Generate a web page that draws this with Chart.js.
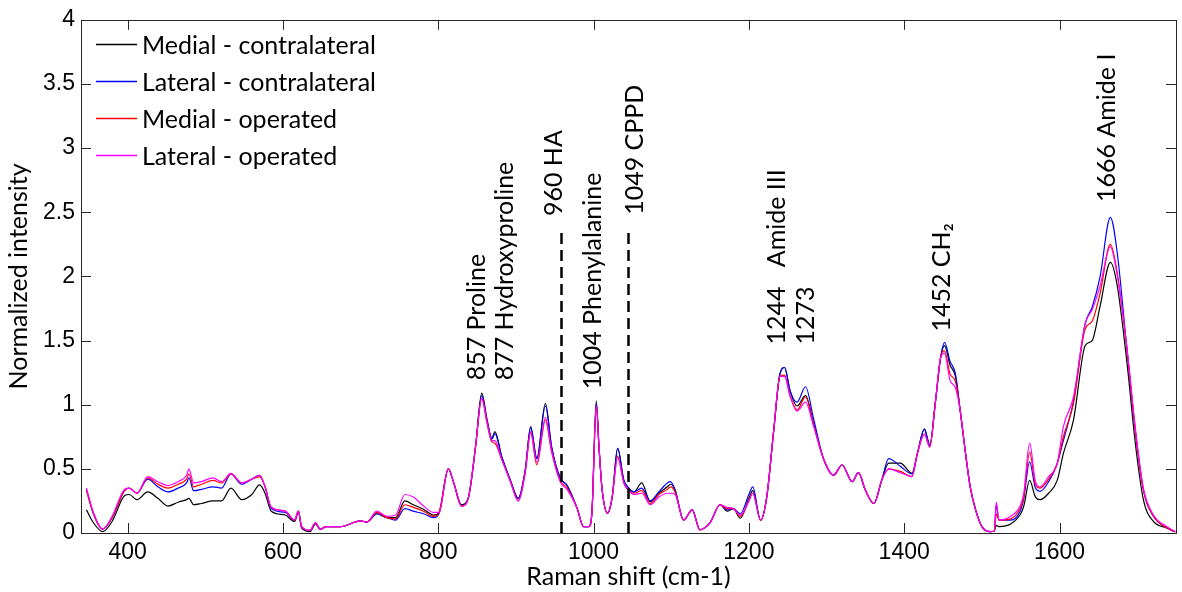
<!DOCTYPE html>
<html>
<head>
<meta charset="utf-8">
<script src="https://cdn.jsdelivr.net/npm/chart.js@4/dist/chart.umd.min.js"></script>
<style>
  html, body { margin: 0; padding: 0; background: #fff; }
</style>
</head>
<body>
<canvas id="ramanChart" width="1182" height="592"></canvas>
<script>
// Raman shift (cm-1), shared by all four spectra
const shift = [347,356,368,380,396,402,412,426,439,452,
  465,476,479,485,495,510,521,533,547,560,
  570,577,585,603,615,620,624,635,642,648,
  656,674,700,708,721,734,745,757,768,781,
  794,801,813,820,830,839,848,856,863,869,
  873,882,893,903,912,919,927,938,946,957,
  966,979,987,994,998,1003.5,1007,1011,1018,1024,
  1031,1039,1044,1052,1062,1073,1084,1095,1099,1105,
  1116,1127,1137,1150,1163,1172,1180,1189,1200,1205,
  1215,1223,1232,1240,1246,1253,1262,1273,1283,1296,
  1309,1320,1333,1341,1350,1361,1371,1380,1395,1410,
  1417,1426,1433,1440,1447,1452,1459,1466,1472,1479,
  1485,1492,1500,1511,1516,1518.6,1522,1537,1550,1554,
  1561.5,1569,1575,1586,1597,1605,1618,1633,1642,1652,
  1665.5,1674,1687,1698,1708,1721,1738,1749];

const medialContra = [0.18,0.08,0.01,0.09,0.29,0.30,0.26,0.32,0.27,0.21,
  0.24,0.26,0.27,0.22,0.23,0.25,0.25,0.35,0.26,0.30,
  0.375,0.31,0.17,0.14,0.09,0.16,0.04,0.01,0.07,0.03,
  0.05,0.05,0.095,0.085,0.15,0.12,0.12,0.25,0.22,0.185,
  0.14,0.16,0.50,0.39,0.22,0.28,0.67,1.09,0.88,0.74,
  0.79,0.59,0.41,0.27,0.49,0.83,0.58,1.01,0.67,0.43,
  0.37,0.19,0.05,0.05,0.17,1.03,0.67,0.34,0.155,0.28,
  0.66,0.41,0.36,0.32,0.39,0.245,0.31,0.36,0.38,0.335,
  0.10,0.18,0.025,0.08,0.22,0.17,0.19,0.115,0.27,0.33,
  0.10,0.28,0.80,1.24,1.29,1.11,0.99,1.07,0.86,0.58,
  0.45,0.53,0.40,0.47,0.335,0.23,0.41,0.545,0.545,0.465,
  0.62,0.81,0.685,1.01,1.37,1.46,1.31,1.22,0.96,0.62,
  0.36,0.18,0.05,0.01,0.015,0.06,0.05,0.07,0.15,0.21,
  0.41,0.28,0.26,0.31,0.41,0.62,0.88,1.46,1.50,1.76,
  2.11,1.94,1.32,0.68,0.26,0.09,0.04,0.01];

const lateralContra = [0.34,0.15,0.03,0.12,0.33,0.35,0.31,0.42,0.36,0.32,
  0.35,0.39,0.43,0.33,0.34,0.36,0.35,0.46,0.38,0.42,
  0.45,0.36,0.19,0.16,0.10,0.17,0.05,0.02,0.08,0.03,
  0.05,0.05,0.095,0.085,0.15,0.12,0.10,0.19,0.17,0.15,
  0.12,0.15,0.50,0.39,0.21,0.28,0.67,1.07,0.87,0.73,
  0.775,0.59,0.41,0.27,0.49,0.82,0.58,0.99,0.67,0.43,
  0.37,0.19,0.05,0.05,0.17,1.01,0.67,0.34,0.155,0.28,
  0.66,0.41,0.36,0.32,0.35,0.25,0.32,0.39,0.40,0.335,
  0.10,0.18,0.025,0.08,0.22,0.18,0.19,0.15,0.30,0.36,
  0.10,0.28,0.80,1.24,1.29,1.11,1.02,1.14,0.90,0.58,
  0.45,0.53,0.40,0.47,0.335,0.23,0.41,0.58,0.52,0.46,
  0.62,0.81,0.685,1.01,1.37,1.485,1.34,1.24,0.96,0.62,
  0.36,0.18,0.05,0.01,0.015,0.22,0.10,0.10,0.18,0.27,
  0.555,0.35,0.325,0.40,0.54,0.72,1.03,1.63,1.76,1.99,
  2.46,2.20,1.42,0.775,0.335,0.13,0.04,0.01];

const medialOper = [0.33,0.15,0.03,0.12,0.33,0.35,0.31,0.43,0.38,0.35,
  0.38,0.42,0.46,0.36,0.38,0.41,0.39,0.46,0.39,0.42,
  0.44,0.36,0.20,0.17,0.10,0.17,0.05,0.02,0.08,0.03,
  0.05,0.05,0.095,0.085,0.16,0.12,0.11,0.22,0.20,0.17,
  0.13,0.16,0.50,0.39,0.21,0.28,0.67,1.05,0.85,0.71,
  0.70,0.57,0.40,0.25,0.47,0.78,0.53,0.88,0.63,0.41,
  0.35,0.19,0.05,0.05,0.17,0.99,0.67,0.34,0.155,0.28,
  0.60,0.39,0.34,0.31,0.33,0.23,0.30,0.34,0.36,0.32,
  0.10,0.18,0.025,0.08,0.22,0.19,0.19,0.13,0.25,0.31,
  0.10,0.28,0.80,1.22,1.23,1.07,0.96,1.06,0.85,0.58,
  0.45,0.53,0.40,0.47,0.335,0.23,0.41,0.50,0.48,0.44,
  0.62,0.77,0.67,1.01,1.37,1.42,1.24,1.18,0.96,0.62,
  0.36,0.18,0.05,0.01,0.015,0.15,0.10,0.11,0.20,0.28,
  0.63,0.38,0.35,0.42,0.54,0.75,1.01,1.59,1.65,1.86,
  2.25,2.04,1.42,0.775,0.335,0.13,0.04,0.01];

const lateralOper = [0.35,0.16,0.03,0.13,0.34,0.35,0.31,0.44,0.40,0.37,
  0.40,0.45,0.50,0.39,0.40,0.43,0.40,0.465,0.39,0.42,
  0.45,0.36,0.20,0.17,0.10,0.17,0.05,0.02,0.08,0.03,
  0.05,0.05,0.095,0.085,0.17,0.13,0.14,0.30,0.28,0.21,
  0.16,0.16,0.50,0.39,0.21,0.28,0.67,1.05,0.86,0.72,
  0.72,0.57,0.40,0.25,0.47,0.79,0.55,0.90,0.64,0.40,
  0.34,0.19,0.05,0.05,0.17,0.99,0.67,0.34,0.155,0.28,
  0.59,0.39,0.34,0.30,0.31,0.22,0.28,0.31,0.31,0.30,
  0.10,0.18,0.025,0.08,0.22,0.20,0.19,0.14,0.25,0.31,
  0.10,0.28,0.80,1.22,1.22,1.07,0.95,1.02,0.84,0.58,
  0.45,0.53,0.40,0.47,0.335,0.23,0.41,0.50,0.47,0.44,
  0.62,0.77,0.67,1.01,1.37,1.40,1.19,1.13,0.96,0.62,
  0.36,0.18,0.05,0.01,0.015,0.24,0.10,0.13,0.22,0.31,
  0.70,0.40,0.36,0.44,0.54,0.83,1.06,1.63,1.74,1.92,
  2.23,2.02,1.44,0.80,0.35,0.14,0.05,0.01];

const seriesNames = ['Medial - contralateral', 'Lateral - contralateral', 'Medial - operated', 'Lateral - operated'];
const seriesColors = ['#000000', '#0000ff', '#ff0000', '#ff00ff'];

const xTicks = [400, 600, 800, 1000, 1200, 1400, 1600];
const yTicks = [0, 0.5, 1, 1.5, 2, 2.5, 3, 3.5, 4];

// band assignments (rotated labels): text, position in cm-1, bottom of text in intensity units
const bandText = ['857 Proline', '877 Hydroxyproline', '960 HA', '1004 Phenylalanine', '1049 CPPD',
  '1244   Amide III', '1273', '1452 CH\u2082', '1666 Amide I'];
const bandX = [850, 886, 949, 999.6, 1053, 1236, 1274, 1448.5, 1661.7];
const bandY = [1.19, 1.19, 2.47, 1.12, 2.48, 1.47, 1.47, 1.57, 2.58];

// dashed markers
const markerX = [957.5, 1044];
const markerTop = 2.35;

const FONT = 'Lato, "Noto Sans", sans-serif';
const TICKFONT = '"Liberation Sans", Arial, sans-serif';

const pairs = (ys) => shift.map((x, i) => ({ x: x, y: ys[i] }));
const allSeries = [medialContra, lateralContra, medialOper, lateralOper];

const datasets = allSeries.map((ys, i) => ({
  label: seriesNames[i],
  data: pairs(ys),
  borderColor: seriesColors[i],
  borderWidth: 1.2,
  pointRadius: 0,
  fill: false,
  cubicInterpolationMode: 'monotone',
  order: 3 - i
}));

const decorations = {
  id: 'decorations',
  afterDatasetsDraw(chart) {
    const ctx = chart.ctx, xs = chart.scales.x, ys = chart.scales.y, area = chart.chartArea;
    ctx.save();

    // dashed marker lines
    ctx.strokeStyle = '#000';
    ctx.lineWidth = 2.5;
    ctx.setLineDash([11, 6]);
    markerX.forEach(v => {
      const px = Math.round(xs.getPixelForValue(v)) + 0.5;
      ctx.beginPath();
      ctx.moveTo(px, ys.getPixelForValue(0));
      ctx.lineTo(px, ys.getPixelForValue(markerTop));
      ctx.stroke();
    });
    ctx.setLineDash([]);

    // rotated band labels
    ctx.fillStyle = '#000';
    ctx.font = '25px ' + FONT;
    ctx.textAlign = 'left';
    ctx.textBaseline = 'middle';
    bandText.forEach((t, i) => {
      ctx.save();
      ctx.translate(xs.getPixelForValue(bandX[i]), ys.getPixelForValue(bandY[i]));
      ctx.rotate(-Math.PI / 2);
      ctx.fillText(t, 0, 0);
      ctx.restore();
    });

    // axes box with inward ticks
    ctx.strokeStyle = '#262626';
    ctx.lineWidth = 1;
    ctx.strokeRect(Math.round(area.left) + 0.5, Math.round(area.top) + 0.5,
      Math.round(area.right - area.left), Math.round(area.bottom - area.top));
    const tl = 10;
    ctx.beginPath();
    xTicks.forEach(v => {
      const px = Math.round(xs.getPixelForValue(v)) + 0.5;
      ctx.moveTo(px, area.bottom); ctx.lineTo(px, area.bottom - tl);
      ctx.moveTo(px, area.top); ctx.lineTo(px, area.top + tl);
    });
    yTicks.slice(1, -1).forEach(v => {
      const py = Math.round(ys.getPixelForValue(v)) + 0.5;
      ctx.moveTo(area.left, py); ctx.lineTo(area.left + tl, py);
      ctx.moveTo(area.right, py); ctx.lineTo(area.right - tl, py);
    });
    ctx.stroke();

    // legend
    ctx.font = '25px ' + FONT;
    ctx.textBaseline = 'middle';
    chart.data.datasets.forEach((ds, i) => {
      const y = Math.round(44 + i * 37) + 0.5;
      ctx.strokeStyle = ds.borderColor;
      ctx.lineWidth = 1.5;
      ctx.beginPath();
      ctx.moveTo(96, y); ctx.lineTo(137, y);
      ctx.stroke();
      ctx.fillStyle = '#000';
      ctx.fillText(ds.label, 142, y + 1);
    });
    ctx.restore();
  }
};

new Chart(document.getElementById('ramanChart'), {
  type: 'line',
  data: { datasets: datasets },
  options: {
    responsive: false,
    animation: false,
    events: [],
    layout: { padding: { top: 17, right: 6, left: 0, bottom: 0 } },
    plugins: { legend: { display: false }, tooltip: { enabled: false } },
    scales: {
      x: {
        type: 'linear',
        min: 340,
        max: 1750,
        afterBuildTicks: s => { s.ticks = xTicks.map(v => ({ value: v })); },
        afterFit: s => { s.height = 59; },
        grid: { display: false, drawTicks: false },
        border: { display: false },
        ticks: { padding: 6, maxRotation: 0, color: '#000', font: { family: TICKFONT, size: 23 },
          callback: v => String(v) },
        title: { display: true, text: 'Raman shift (cm-1)', color: '#000', padding: { top: 0, bottom: 0 }, font: { family: FONT, size: 25 } }
      },
      y: {
        min: 0,
        max: 4,
        afterBuildTicks: s => { s.ticks = yTicks.map(v => ({ value: v })); },
        afterFit: s => { s.width = 81; },
        grid: { display: false, drawTicks: false },
        border: { display: false },
        ticks: { padding: 6, color: '#000', font: { family: TICKFONT, size: 23 },
          callback: v => String(v) },
        title: { display: true, text: 'Normalized intensity', color: '#000', padding: { top: 4, bottom: 0 }, font: { family: FONT, size: 25 } }
      }
    }
  },
  plugins: [decorations]
});
</script>
</body>
</html>
